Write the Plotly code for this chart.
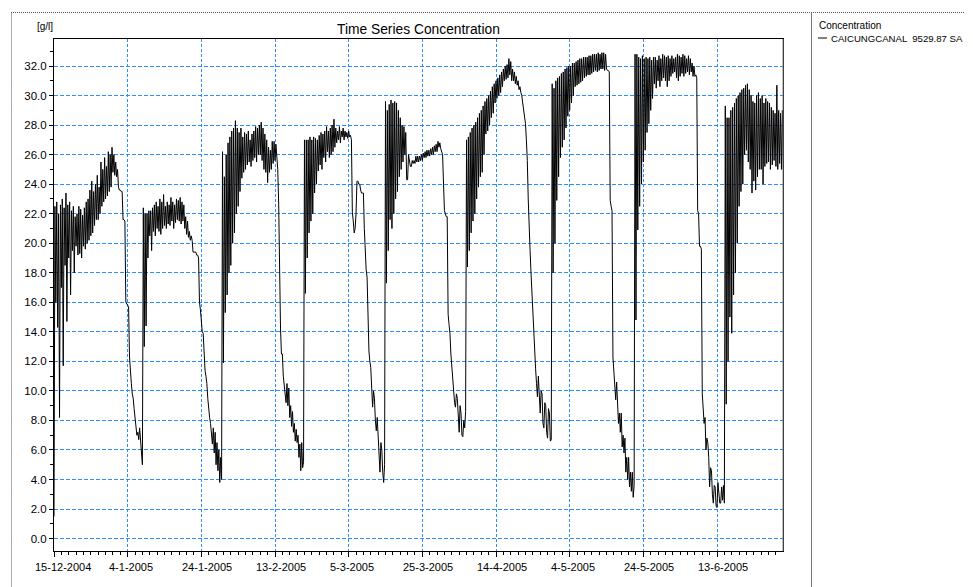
import pandas as pd
import plotly.graph_objects as go

# ---- data (g/l), one value every 6 hours starting 15-12-2004 00:00 ----
start = "2004-12-15 00:00"
conc = [
    # days 0-4
    1.5, 22.5, 16.0, 22.8, 14.3, 22.0, 8.2, 22.6, 17.0, 23.0, 11.7, 22.4,
    18.5, 23.4, 14.7, 22.6, 19.0, 22.8, 16.5, 22.2,
    # days 5-9
    19.5, 22.5, 18.0, 21.8, 19.8, 22.0, 19.2, 22.5, 19.3, 22.3, 19.0, 21.9,
    19.8, 22.4, 19.6, 22.8, 20.0, 23.0, 20.2, 23.6,
    # days 10-14
    20.5, 24.2, 20.7, 23.5, 21.2, 24.0, 21.6, 24.6, 21.6, 23.8, 22.0, 25.5,
    22.5, 25.0, 22.8, 25.8, 23.0, 25.2, 23.2, 26.2,
    # days 15-19
    23.5, 26.0, 23.8, 26.5, 24.8, 26.0, 24.6, 25.5, 24.5, 25.0, 23.8, 23.6,
    23.6, 23.5, 23.5, 21.6, 21.6, 21.5, 16.0, 15.9,
    # days 20-24
    15.8, 15.7, 12.3, 11.0, 10.5, 9.8, 9.5, 8.8, 8.0, 7.5, 7.0, 7.2,
    6.7, 7.5, 6.7, 6.2, 5.0, 22.4, 13.0, 22.0,
    # days 25-29
    14.4, 22.0, 19.0, 22.2, 20.5, 22.2, 19.5, 22.4, 20.8, 22.6, 20.5, 22.8,
    21.0, 22.5, 20.8, 23.0, 20.6, 22.8, 21.0, 23.3,
    # days 30-34
    21.2, 22.5, 21.0, 22.8, 21.3, 22.6, 21.2, 23.1, 21.5, 22.8, 21.0, 22.6,
    21.4, 23.0, 21.6, 22.9, 21.5, 23.1, 21.3, 22.8,
    # days 35-39
    21.5, 22.6, 21.0, 21.8, 20.6, 21.5, 20.4, 20.8, 20.2, 20.5, 20.2, 19.4,
    19.4, 19.4, 19.4, 19.2, 19.2, 19.0, 16.0, 15.5,
    # days 40-44
    14.3, 14.0, 13.9, 12.5, 11.4, 11.0, 10.5, 9.5, 8.7, 8.2, 7.8, 7.0,
    6.4, 7.5, 5.8, 7.2, 5.0, 6.5, 4.6, 6.0,
    # days 45-49
    3.8, 5.5, 4.0, 26.2, 11.9, 24.5, 15.3, 26.0, 16.5, 26.8, 18.0, 27.2,
    18.5, 27.6, 20.0, 27.8, 20.7, 28.3, 22.0, 27.8,
    # days 50-54
    22.5, 27.5, 23.5, 27.8, 24.4, 27.2, 24.8, 27.5, 25.0, 27.4, 25.3, 27.6,
    25.5, 27.0, 25.2, 27.4, 25.6, 27.6, 25.8, 27.9,
    # days 55-59
    25.5, 27.8, 26.0, 28.0, 26.0, 28.2, 25.6, 27.8, 25.0, 27.4, 24.8, 27.0,
    24.1, 26.5, 24.8, 26.3, 25.0, 26.9, 25.4, 26.9,
    # days 60-64
    25.6, 26.7, 25.6, 25.0, 22.6, 17.7, 14.2, 12.5, 12.5, 11.0, 10.3, 9.6,
    9.2, 10.5, 9.0, 10.2, 8.2, 9.0, 7.6, 8.6,
    # days 65-69
    7.2, 7.8, 6.6, 7.4, 6.5, 7.0, 5.5, 6.4, 4.6, 6.5, 4.8, 5.2,
    27.0, 16.6, 27.0, 19.0, 27.0, 20.7, 27.2, 21.5,
    # days 70-74
    27.0, 22.0, 27.2, 23.4, 27.1, 24.0, 27.0, 24.9, 27.3, 25.3, 27.5, 25.0,
    27.4, 25.8, 27.6, 25.5, 27.9, 26.2, 27.6, 25.8,
    # days 75-79
    27.8, 26.0, 28.0, 26.2, 28.4, 26.5, 27.8, 26.8, 27.6, 27.0, 27.9, 26.8,
    27.6, 27.2, 27.8, 27.0, 27.6, 27.2, 27.5, 27.1,
    # days 80-84
    27.6, 27.2, 27.3, 27.0, 22.1, 21.5, 20.7, 21.0, 22.0, 24.2, 24.2, 24.0,
    24.0, 23.6, 23.4, 23.4, 23.4, 21.0, 19.1, 18.2,
    # days 85-89
    17.7, 14.5, 12.7, 12.0, 11.6, 10.2, 8.9, 10.0, 9.5, 8.0, 7.3, 8.2,
    7.0, 5.8, 4.5, 6.5, 6.0, 4.5, 3.8, 5.0,
    # days 90-94
    29.6, 17.3, 29.0, 19.5, 29.4, 21.6, 29.7, 21.0, 29.5, 22.0, 29.6, 23.0,
    29.5, 23.5, 29.0, 24.5, 28.5, 25.0, 28.0, 25.5,
    # days 95-99
    27.9, 26.0, 27.5, 24.3, 24.3, 26.0, 25.4, 25.2, 25.2, 25.6, 25.4, 25.6,
    25.4, 25.9, 25.5, 25.9, 25.5, 25.9, 25.6, 26.0,
    # days 100-104
    25.6, 26.1, 25.8, 26.2, 25.8, 26.3, 25.9, 26.3, 25.9, 26.4, 26.0, 26.5,
    26.0, 26.6, 26.2, 26.7, 26.2, 26.9, 26.5, 26.8,
    # days 105-109
    26.4, 26.2, 26.0, 24.0, 22.2, 22.0, 21.8, 21.8, 15.2, 14.5, 13.9, 12.5,
    11.5, 10.8, 10.0, 9.2, 8.9, 9.8, 9.5, 8.0,
    # days 110-114
    7.2, 9.0, 8.5, 7.0, 6.9, 8.0, 7.5, 8.6, 27.0, 18.4, 27.2, 19.5,
    27.5, 20.7, 27.8, 21.5, 28.0, 22.0, 28.2, 23.0,
    # days 115-119
    28.5, 23.8, 28.8, 24.5, 29.0, 24.8, 29.3, 26.0, 29.6, 27.4, 29.8, 27.6,
    30.0, 28.0, 30.3, 28.5, 30.6, 28.8, 30.8, 29.5,
    # days 120-124
    31.0, 29.8, 31.2, 30.0, 31.4, 30.2, 31.6, 30.6, 31.8, 31.0, 32.0, 31.1,
    32.1, 31.2, 32.5, 31.4, 32.3, 31.0, 31.8, 31.0,
    # days 125-129
    31.6, 30.8, 31.3, 30.7, 31.0, 30.4, 30.6, 30.2, 30.0, 29.5, 29.0, 28.6,
    28.1, 27.0, 25.6, 23.0, 20.7, 19.5, 18.0, 16.5,
    # days 130-134
    15.0, 13.8, 12.7, 11.5, 10.5, 9.6, 11.0, 9.0, 8.5, 10.0, 9.8, 7.8,
    7.5, 9.2, 9.0, 7.2, 6.8, 8.8, 8.5, 6.6,
    # days 135-139
    6.7, 30.8, 18.0, 30.5, 20.0, 31.0, 22.9, 31.2, 24.5, 31.3, 25.8, 31.5,
    26.5, 31.6, 27.0, 31.8, 27.8, 31.9, 28.6, 32.0,
    # days 140-144
    29.0, 32.0, 29.5, 32.2, 30.0, 32.2, 30.6, 32.3, 30.7, 32.4, 30.8, 32.5,
    30.9, 32.5, 31.0, 32.6, 31.2, 32.6, 31.3, 32.6,
    # days 145-149
    31.4, 32.7, 31.4, 32.7, 31.5, 32.8, 31.6, 32.8, 31.7, 32.8, 31.6, 32.9,
    31.7, 32.8, 31.8, 32.9, 31.8, 32.9, 31.7, 32.8,
    # days 150-154
    31.8, 31.7, 31.7, 31.6, 22.9, 22.5, 22.2, 12.3, 11.5, 10.5, 9.4, 10.6,
    9.4, 7.8, 8.5, 7.2, 8.5, 6.2, 7.0, 5.8,
    # days 155-159
    6.8, 4.5, 5.5, 4.0, 5.5, 3.5, 4.5, 3.2, 4.5, 2.8, 3.6, 32.8,
    14.8, 32.8, 20.9, 32.6, 22.5, 32.5, 24.0, 32.7,
    # days 160-164
    25.5, 32.5, 26.3, 32.6, 27.5, 32.5, 28.1, 32.6, 29.0, 32.4, 29.8, 32.6,
    30.8, 32.6, 30.5, 32.4, 31.0, 32.7, 30.6, 32.5,
    # days 165-169
    31.0, 32.8, 31.2, 32.7, 31.0, 32.6, 30.6, 32.7, 31.0, 32.5, 31.3, 32.7,
    31.5, 32.5, 31.6, 32.6, 31.2, 32.8, 31.0, 32.7,
    # days 170-174
    31.3, 32.6, 31.5, 32.8, 31.3, 32.7, 31.5, 32.5, 31.6, 32.7, 31.4, 32.5,
    31.6, 32.2, 31.3, 32.0, 31.3, 31.4, 31.2, 22.2,
    # days 175-179
    22.0, 19.8, 19.8, 19.6, 9.8, 9.0, 7.8, 8.2, 6.0, 6.8, 6.5, 5.5,
    3.5, 4.8, 4.6, 3.0, 2.4, 3.6, 3.5, 2.2,
    # days 180-184
    2.1, 3.8, 3.2, 2.4, 2.4, 3.5, 2.6, 3.6, 2.4, 29.3, 9.1, 28.5,
    12.0, 28.5, 15.0, 29.0, 13.9, 29.2, 16.5, 29.5,
    # days 185-189
    18.0, 29.8, 20.0, 30.0, 22.5, 30.2, 23.5, 30.4, 24.0, 30.5, 26.0, 30.7,
    26.3, 30.8, 25.5, 30.4, 25.0, 30.0, 23.4, 29.6,
    # days 190-194
    24.2, 29.5, 23.6, 30.0, 24.5, 30.2, 25.0, 29.8, 25.0, 30.0, 24.0, 29.5,
    25.2, 29.8, 25.4, 29.6, 25.5, 29.5, 25.0, 29.2,
    # days 195-198
    25.3, 29.0, 25.6, 28.8, 25.2, 30.7, 25.0, 29.0, 25.4, 28.8, 25.0, 29.0,
    25.0,
]
times = pd.date_range(start, periods=len(conc), freq="6h")

x_tick_dates = ["2004-12-15", "2005-01-04", "2005-01-24", "2005-02-13", "2005-03-05",
                "2005-03-25", "2005-04-14", "2005-05-04", "2005-05-24", "2005-06-13"]
x_tick_labels = ["15-12-2004", "4-1-2005", "24-1-2005", "13-2-2005", "5-3-2005",
                 "25-3-2005", "14-4-2005", "4-5-2005", "24-5-2005", "13-6-2005"]
y_ticks = [float(v) for v in range(0, 33, 2)]

title_text = "Time Series Concentration"
unit_text = "[g/l]"
legend_title = "Concentration"
series_name = "CAICUNGCANAL  9529.87 SA"

# ---- layout geometry (pixels); the page body adds an 8 px offset ----
OFF = 8
W, H = 973 - OFF, 587 - OFF
L, T = 54 - OFF, 39 - OFF
R = W - (783 - OFF)
B = H - (551 - OFF)
PW, PH = W - L - R, H - T - B


def px(xp):
    return (xp - OFF - L) / PW


def py(yp):
    return (H - B - (yp - OFF)) / PH


FONT = "Liberation Sans, Arial, sans-serif"
GRID = "#2b8cff"

fig = go.Figure()
fig.add_trace(go.Scatter(x=times, y=conc, mode="lines",
                         line=dict(color="black", width=1),
                         name=series_name, showlegend=False))

fig.update_layout(
    width=W, height=H,
    margin=dict(l=L, r=R, t=T, b=B, pad=0),
    paper_bgcolor="white", plot_bgcolor="white",
    font=dict(family=FONT, size=11, color="black"),
    showlegend=False,
)

fig.update_xaxes(
    type="date",
    range=["2004-12-15 00:00", "2005-06-30 22:00"],
    tickmode="array", tickvals=x_tick_dates, ticktext=x_tick_labels,
    showticklabels=False,
    ticks="outside", ticklen=5, tickcolor="black", tickwidth=1,
    showline=True, linecolor="black", linewidth=1, mirror=True,
    showgrid=True, gridcolor=GRID, gridwidth=1, griddash="3px,2px",
    zeroline=False,
    minor=dict(tickmode="linear", tick0="2004-12-15", dtick=2 * 86400000,
               ticks="outside", ticklen=3, tickcolor="black", showgrid=False),
)
fig.update_yaxes(
    range=[-0.84, 33.83],
    tickmode="array", tickvals=y_ticks, tickformat=".1f",
    ticks="outside", ticklen=4, tickcolor="black", tickwidth=1,
    showline=True, linecolor="black", linewidth=1, mirror=True,
    showgrid=True, gridcolor=GRID, gridwidth=1, griddash="4px,2px",
    zeroline=False,
    tickfont=dict(family=FONT, size=11.5, color="black"),
    minor=dict(tickmode="linear", tick0=0, dtick=1,
               ticks="outside", ticklen=3, tickcolor="black", showgrid=False),
)

shapes = [
    # right edge of the plot frame (grey)
    dict(type="line", xref="paper", yref="paper", x0=1, x1=1, y0=0, y1=1,
         line=dict(color="#808080", width=1)),
    # outer dotted frame
    dict(type="line", xref="paper", yref="paper", x0=px(11), x1=px(973), y0=py(12.5), y1=py(12.5),
         line=dict(color="#555555", width=1, dash="1px,1px")),
    dict(type="line", xref="paper", yref="paper", x0=px(11.5), x1=px(11.5), y0=py(12.5), y1=py(587),
         line=dict(color="#555555", width=1, dash="1px,1px")),
    # legend separator
    dict(type="line", xref="paper", yref="paper", x0=px(811.5), x1=px(811.5), y0=py(12.5), y1=py(587),
         line=dict(color="#777777", width=1)),
    # legend line sample
    dict(type="line", xref="paper", yref="paper", x0=px(818), x1=px(827), y0=py(38), y1=py(38),
         line=dict(color="black", width=1)),
]

annotations = [
    dict(text=title_text, xref="paper", yref="paper", x=0.5, y=py(29.5),
         xanchor="center", yanchor="middle", showarrow=False,
         font=dict(family=FONT, size=13.8, color="black")),
    dict(text=unit_text, xref="paper", yref="paper", x=px(45), y=py(26.5),
         xanchor="center", yanchor="middle", showarrow=False,
         font=dict(family=FONT, size=10, color="black")),
    dict(text=legend_title, xref="paper", yref="paper", x=px(817), y=py(25.5),
         xanchor="left", yanchor="middle", showarrow=False,
         font=dict(family=FONT, size=10, color="black")),
    dict(text=series_name, xref="paper", yref="paper", x=px(830), y=py(38),
         xanchor="left", yanchor="middle", showarrow=False, borderpad=0,
         font=dict(family=FONT, size=9.6, color="black")),
]
# date tick labels: the original chart draws them starting ~20 px left of each tick
for d, lab in zip(x_tick_dates, x_tick_labels):
    annotations.append(dict(text=lab, xref="x", yref="paper", x=d, y=py(566.7),
                            xanchor="left", yanchor="middle", xshift=-20,
                            borderpad=0, showarrow=False,
                            font=dict(family=FONT, size=11, color="black")))
fig.update_layout(shapes=shapes, annotations=annotations)

fig.write_html("out.html")
